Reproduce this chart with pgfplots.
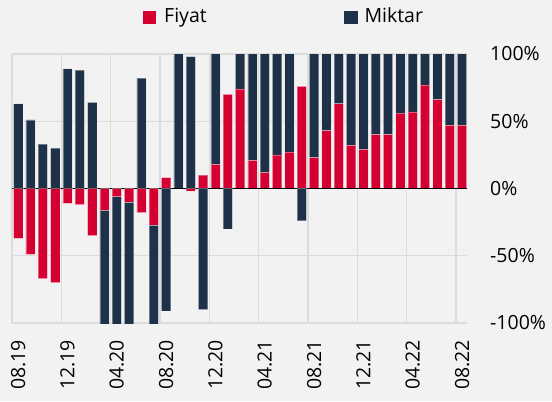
\documentclass[border=0pt]{standalone}
\usepackage{pgfplots}
\pgfplotsset{compat=1.18}
\usepackage{pgfplotstable}
\usepackage{fontspec}
\setmainfont{Open Sans}
\definecolor{fiyat}{RGB}{213,0,50}
\definecolor{miktar}{RGB}{29,50,72}
\definecolor{bg}{RGB}{242,242,242}
\definecolor{gridc}{RGB}{220,220,220}
\newcommand\lf{\fontsize{19.5bp}{23bp}\selectfont}

\pgfplotstableread{
x rp np rn nn
0 0 63 -37 0
1 0 51 -49 0
2 0 33 -67 0
3 0 30 -70 0
4 0 89 -11 0
5 0 88 -12 0
6 0 64 -35 0
7 0 0 -16 -95
8 0 0 -6 -100
9 0 0 -10 -100
10 0 82 -18 0
11 0 0 -27 -90
12 8 0 0 -91
13 0 105 0 0
14 0 98 -2 0
15 10 0 0 -90
16 18 95 0 0
17 70 0 0 -30
18 74 40 0 0
19 21 90 0 0
20 12 95 0 0
21 25 85 0 0
22 27 80 0 0
23 76 0 0 -24
24 23 85 0 0
25 43 65 0 0
26 63 50 0 0
27 32 75 0 0
28 29 80 0 0
29 40 70 0 0
30 40 70 0 0
31 56 50 0 0
32 57 50 0 0
33 77 40 0 0
34 66 45 0 0
35 47 60 0 0
36 47 60 0 0
}\data

\pgfplotsset{
  common/.style={
    at={(0,0)}, anchor=south west, scale only axis,
    width=455bp, height=269bp,
    xmin=-0.5, xmax=36.4, ymin=-100, ymax=100,
    ybar stacked, bar width=9.3bp,
  },
  barstyle/.style={draw=white, draw opacity=0.35, line width=0.6bp},
}

\begin{document}
\begin{tikzpicture}[x=1bp,y=1bp]
\fill[bg] (-12,-78) rectangle (540,323);
\begin{axis}[common,
  axis line style={draw=none},
  tick style={draw=none},
  major tick length=0pt,
  ytick={-100,-50,0,50,100},
  yticklabels={-100\%,-50\%,0\%,50\%,100\%},
  yticklabel pos=right,
  yticklabel style={anchor=west, inner sep=0pt, xshift=23bp, font=\lf},
  ymajorgrids, xmajorgrids,
  grid style={gridc, line width=1.2bp},
  xtick={-0.5,3.5,...,35.5},
  xticklabels={},
  extra x ticks={0,4,...,36},
  extra x tick labels={08.19,12.19,04.20,08.20,12.20,04.21,08.21,12.21,04.22,08.22},
  extra x tick style={grid=none},
  xticklabel style={yshift=-17bp, rotate=90, anchor=east, inner sep=0pt, font=\lf},
]
\addplot[barstyle, fill=fiyat] table[x=x, y=rp] {\data};
\addplot[barstyle, fill=miktar] table[x=x, y=np] {\data};
\end{axis}
\begin{axis}[common, hide axis]
\addplot[barstyle, fill=fiyat] table[x=x, y=rn] {\data};
\addplot[barstyle, fill=miktar] table[x=x, y=nn] {\data};
\draw[black, line width=1.3bp] (rel axis cs:0,0.5) -- (rel axis cs:1,0.5);
\end{axis}
% legend
\fill[fiyat] (131.3,299.3) rectangle (143.7,311.7);
\node[anchor=base west, inner sep=0pt, font=\lf] at (152,300.3) {Fiyat};
\fill[miktar] (332,299.3) rectangle (345.7,311.7);
\node[anchor=base west, inner sep=0pt, font=\lf] at (352.3,300.3) {Miktar};
\pgfresetboundingbox
\useasboundingbox (-12,-78) rectangle (540,323);
\end{tikzpicture}
\end{document}
